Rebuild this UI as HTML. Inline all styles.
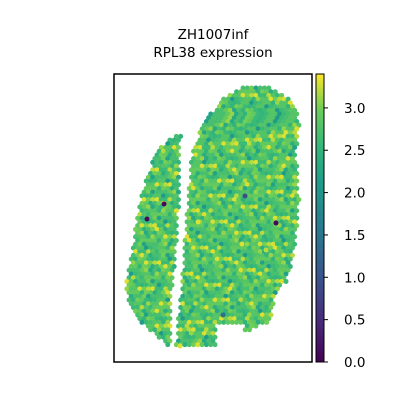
<!DOCTYPE html>
<html><head><meta charset="utf-8"><style>
html,body{margin:0;padding:0;background:#fff;}
svg{display:block;font-family:"DejaVu Sans","Liberation Sans",sans-serif;}
</style></head><body>
<svg id="chart" width="400" height="400">
<defs><linearGradient id="vir" x1="0" y1="1" x2="0" y2="0">
<stop offset="0" stop-color="#440154"/><stop offset="0.13" stop-color="#482878"/><stop offset="0.25" stop-color="#3e4989"/><stop offset="0.38" stop-color="#31688e"/><stop offset="0.5" stop-color="#26828e"/><stop offset="0.63" stop-color="#1f9e89"/><stop offset="0.75" stop-color="#35b779"/><stop offset="0.88" stop-color="#6ece58"/><stop offset="1" stop-color="#fde725"/></linearGradient></defs>
<text x="213" y="39" font-size="13.5" text-anchor="middle">ZH1007inf</text>
<text x="213" y="57" font-size="13.5" text-anchor="middle">RPL38 expression</text>
<g id="spots"></g>
<rect x="114" y="74" width="198" height="288" fill="none" stroke="#000" stroke-width="1.5"/>
<rect x="316" y="74" width="8" height="288" fill="url(#vir)" stroke="#000" stroke-width="1"/>
<g id="cticks"></g>
</svg>
<script>
// colorbar ticks
const tickValues=[0,0.5,1,1.5,2,2.5,3];
const tickLabels=["0.0","0.5","1.0","1.5","2.0","2.5","3.0"];
// tissue shape (y, xStart, xEnd) keypoints for each piece
const leftY=[133,150,200,250,290,320,345];
const leftX0=[178,156,140,132,124,138,168];
const leftX1=[181,180,179,176,172,170,172];
const rightY=[88,100,120,150,200,250,280,300,320,346];
const rightX0=[243,222,205,192,188,184,182,180,178,176];
const rightX1=[270,290,300,296,299,295,287,274,272,215];
// expression values (cycled over spots)
const baseValues=[2.7,2.9,2.6,3.0,2.8,2.5,3.1,2.7,2.4,2.9,3.2,2.8,2.6,2.3,3.0,2.7,2.9,3.3,2.5,2.8,2.7,2.2,3.0,2.9,2.6,3.1,2.8,2.5,2.7,3.3,2.9,2.6,2.8,2.1,3.0,2.7,2.9,2.5,3.2,2.8,2.6,2.9,2.7,2.4,3.0,2.8,3.3,2.7,2.6,2.9];
// notable outlier spots [x, y, value]
const outliers=[[164,204,0.1],[147,219,0.1],[276,223,0.1],[245,196,0.9],[198,222,3.3],[242,244,3.3],[180,346,3.3],[266,250,3.2],[223,315,1.4]];

const vmin=0,vmax=3.4,cTop=74,cBot=362;
const yScale=v=>cBot-(v-vmin)/(vmax-vmin)*(cBot-cTop);
const stops=[[0,[68,1,84]],[0.13,[72,40,120]],[0.25,[62,73,137]],[0.38,[49,104,142]],[0.5,[38,130,142]],[0.63,[31,158,137]],[0.75,[53,183,121]],[0.88,[110,206,88]],[1,[253,231,37]]];
function cmap(v){let t=Math.max(0,Math.min(1,(v-vmin)/(vmax-vmin)));for(let i=1;i<stops.length;i++){if(t<=stops[i][0]){const a=stops[i-1],b=stops[i];const f=(t-a[0])/(b[0]-a[0]);const c=a[1].map((x,k)=>Math.round(x+(b[1][k]-x)*f));return `rgb(${c})`;}}return 'rgb(253,231,37)';}
function interp(ys,xs,y){if(y<ys[0]||y>ys[ys.length-1])return null;for(let i=1;i<ys.length;i++){if(y<=ys[i]){const f=(y-ys[i-1])/(ys[i]-ys[i-1]);return xs[i-1]+(xs[i]-xs[i-1])*f;}}return xs[xs.length-1];}
const NS="http://www.w3.org/2000/svg";
const g=document.getElementById('spots');
let idx=0;
function addSpot(x,y,v){const c=document.createElementNS(NS,'circle');c.setAttribute('cx',x);c.setAttribute('cy',y);c.setAttribute('r',2.5);c.setAttribute('fill',cmap(v));


g.appendChild(c);}
const dx=4.3,dy=3.72;
for(let r=0,y=88;y<=348;r++,y=88+r*dy){
  const off=(r%2)*dx/2;
  [[leftY,leftX0,leftX1],[rightY,rightX0,rightX1]].forEach(p=>{
    const a=interp(p[0],p[1],y),b=interp(p[0],p[2],y);if(a===null)return;
    for(let x=114+off;x<=b;x+=dx){if(x<a)continue;
      if(p[0]===rightY&&y>325&&x>216&&x<245)continue;
      if(p[0]===rightY&&y>333&&x>=245)continue;
      addSpot(x,y,baseValues[(idx*7+r*3)%baseValues.length]);idx++;}
  });
}
outliers.forEach(o=>addSpot(o[0],o[1],o[2]));
const ct=document.getElementById('cticks');
tickValues.forEach((v,i)=>{const y=yScale(v);
 const l=document.createElementNS(NS,'line');l.setAttribute('x1',324);l.setAttribute('x2',328);l.setAttribute('y1',y);l.setAttribute('y2',y);l.setAttribute('stroke','#000');
 
 
 ct.appendChild(l);
 const t=document.createElementNS(NS,'text');t.setAttribute('x',344);t.setAttribute('y',y+5);t.setAttribute('font-size','13.5');t.textContent=tickLabels[i];
 
 
 ct.appendChild(t);});
</script>
</body></html>
